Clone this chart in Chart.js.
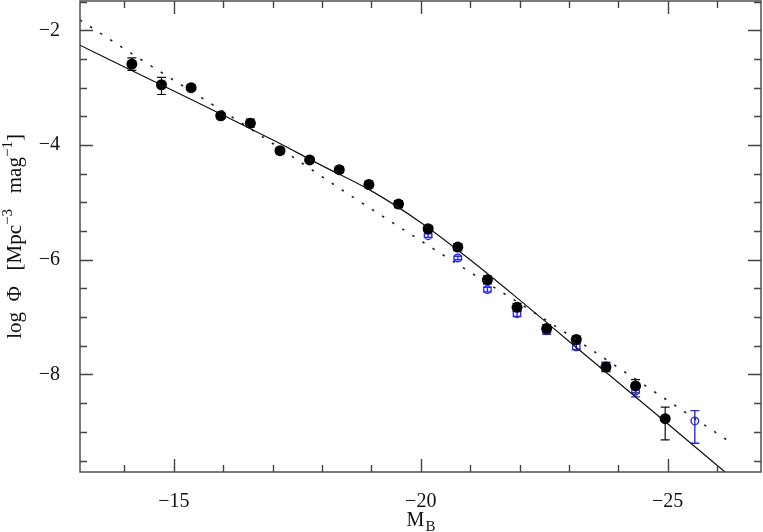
<!DOCTYPE html>
<html>
<head>
<meta charset="utf-8">
<script src="https://cdn.jsdelivr.net/npm/chart.js@4.4.1/dist/chart.umd.min.js"></script>
<style>
  html, body { margin: 0; padding: 0; background: #fff; }
  #lf { display: block; }
</style>
</head>
<body>
<canvas id="lf" width="763" height="532"></canvas>
<script>
// binned luminosity function, filled black points
const magBins = [-14.15, -14.75, -15.35, -15.95, -16.55, -17.15, -17.75, -18.35, -18.95, -19.55,
                 -20.15, -20.75, -21.35, -21.95, -22.55, -23.15, -23.75, -24.35, -24.95];
const logPhi  = [-2.59, -2.95, -3.00, -3.49, -3.62, -4.10, -4.26, -4.43, -4.69, -5.03,
                 -5.46, -5.78, -6.35, -6.83, -7.20, -7.39, -7.87, -8.20, -8.77];
const errUp   = [0.11, 0.13, 0.04, 0.05, 0.07, 0.05, 0.04, 0.05, 0.06, 0.06,
                 0.05, 0.06, 0.07, 0.07, 0.07, 0.06, 0.08, 0.11, 0.20];
const errDown = [0.11, 0.17, 0.04, 0.05, 0.07, 0.05, 0.04, 0.05, 0.06, 0.06,
                 0.05, 0.06, 0.07, 0.07, 0.07, 0.06, 0.08, 0.12, 0.37];

// second sample, open blue circles
const magBlue     = [-20.15, -20.75, -21.35, -21.95, -22.55, -23.15, -23.75, -24.35, -25.55];
const logPhiBlue  = [-5.58, -5.97, -6.52, -6.94, -7.24, -7.52, -7.86, -8.29, -8.81];
const errUpBlue   = [0.03, 0.03, 0.04, 0.05, 0.06, 0.05, 0.07, 0.10, 0.18];
const errDownBlue = [0.03, 0.03, 0.04, 0.05, 0.06, 0.05, 0.07, 0.10, 0.39];

// fitted curves
const fitMag    = [-13.1, -14, -15, -16, -17, -18, -19, -20, -21, -22, -23, -24, -25, -26.3];
const fitLogPhi = [-2.26, -2.64, -3.06, -3.48, -3.91, -4.36, -4.80, -5.35, -6.00, -6.70,
                   -7.42, -8.14, -8.86, -9.80];
const plMag     = [-13.1, -14.08, -16.68, -18.40, -20.75, -22.91, -24.66, -26.25];
const plLogPhi  = [-1.82, -2.37, -3.79, -4.78, -6.08, -7.26, -8.26, -9.17];

const xMajor = [-15, -20, -25];
const yMajor = [-8, -6, -4, -2];

const FONT = '"Liberation Serif", "DejaVu Serif", serif';
const BLUE = 'rgb(40, 40, 245)';

const pts = (xs, ys) => xs.map((x, i) => ({ x: x, y: ys[i] }));
const minus = v => (v < 0 ? '\u2212' + Math.abs(v) : String(v));

const errorBars = {
    id: 'errorBars',
    beforeDatasetsDraw(chart) {
        const { ctx, scales: { x, y } } = chart;
        const draw = (mags, vals, up, dn, color, lw) => {
            ctx.save();
            ctx.strokeStyle = color;
            ctx.lineWidth = lw;
            mags.forEach((m, i) => {
                const px = x.getPixelForValue(m);
                const y1 = y.getPixelForValue(vals[i] + up[i]);
                const y2 = y.getPixelForValue(vals[i] - dn[i]);
                ctx.beginPath();
                ctx.moveTo(px, y1); ctx.lineTo(px, y2);
                ctx.moveTo(px - 4.5, y1); ctx.lineTo(px + 4.5, y1);
                ctx.moveTo(px - 4.5, y2); ctx.lineTo(px + 4.5, y2);
                ctx.stroke();
            });
            ctx.restore();
        };
        draw(magBins, logPhi, errUp, errDown, '#111', 1.2);
        draw(magBlue, logPhiBlue, errUpBlue, errDownBlue, BLUE, 1.4);
    }
};

// box round the plot with inward ticks on all four sides, plus axis titles
const frame = {
    id: 'frame',
    afterDraw(chart) {
        const { ctx, chartArea: a, scales: { x, y } } = chart;
        ctx.save();
        ctx.strokeStyle = '#444';
        ctx.lineWidth = 1.4;
        ctx.strokeRect(a.left, a.top, a.right - a.left, a.bottom - a.top);
        ctx.beginPath();
        for (let v = Math.ceil(x.min); v <= x.max; v += 1) {
            const px = Math.round(x.getPixelForValue(v)) + 0.5;
            const len = v % 5 === 0 ? 13 : 7;
            ctx.moveTo(px, a.bottom); ctx.lineTo(px, a.bottom - len);
            ctx.moveTo(px, a.top); ctx.lineTo(px, a.top + len);
        }
        for (let v = Math.ceil(y.min * 2) / 2; v <= y.max; v += 0.5) {
            const py = Math.round(y.getPixelForValue(v)) + 0.5;
            const len = v % 2 === 0 ? 13 : 7;
            ctx.moveTo(a.left, py); ctx.lineTo(a.left + len, py);
            ctx.moveTo(a.right, py); ctx.lineTo(a.right - len, py);
        }
        ctx.stroke();

        ctx.fillStyle = '#111';
        ctx.textBaseline = 'alphabetic';
        // x title: M with subscript B
        const cx = (a.left + a.right) / 2;
        ctx.font = '20px ' + FONT;
        const wM = ctx.measureText('M').width;
        ctx.font = '15px ' + FONT;
        const wB = ctx.measureText('B').width;
        const tx = cx - (wM + wB) / 2;
        ctx.font = '20px ' + FONT;
        ctx.fillText('M', tx, 526);
        ctx.font = '15px ' + FONT;
        ctx.fillText('B', tx + wM + 1, 531);

        // y title with superscripts
        const parts = [
            { t: 'log  \u03A6   [Mpc', sup: false },
            { t: '\u22123', sup: true },
            { t: '   mag', sup: false },
            { t: '\u22121', sup: true },
            { t: ']', sup: false }
        ];
        const fontOf = p => (p.sup ? '15px ' : '21px ') + FONT;
        let total = 0;
        parts.forEach(p => { ctx.font = fontOf(p); total += ctx.measureText(p.t).width; });
        ctx.translate(21, (a.top + a.bottom) / 2);
        ctx.rotate(-Math.PI / 2);
        let off = -total / 2;
        parts.forEach(p => {
            ctx.font = fontOf(p);
            ctx.fillText(p.t, off, p.sup ? -9 : 0);
            off += ctx.measureText(p.t).width;
        });
        ctx.restore();
    }
};

new Chart(document.getElementById('lf').getContext('2d'), {
    type: 'scatter',
    data: {
        datasets: [
            {
                label: 'fit',
                data: pts(fitMag, fitLogPhi),
                showLine: true,
                borderColor: '#111',
                borderWidth: 1.2,
                pointRadius: 0,
                cubicInterpolationMode: 'monotone'
            },
            {
                label: 'power law',
                data: pts(plMag, plLogPhi),
                showLine: true,
                borderColor: '#222',
                borderWidth: 1.6,
                borderDash: [2.5, 9.5],
                pointRadius: 0,
                cubicInterpolationMode: 'monotone'
            },
            {
                label: 'sample 1',
                data: pts(magBins, logPhi),
                backgroundColor: '#000',
                borderColor: '#000',
                pointRadius: 5.5,
                borderWidth: 0
            },
            {
                label: 'sample 2',
                data: pts(magBlue, logPhiBlue),
                backgroundColor: 'rgba(0,0,0,0)',
                borderColor: BLUE,
                pointRadius: 3.8,
                borderWidth: 1.4
            }
        ]
    },
    options: {
        responsive: false,
        animation: false,
        devicePixelRatio: 1,
        layout: { autoPadding: false, padding: { top: 1, right: 2, left: 0, bottom: 0 } },
        plugins: { legend: { display: false }, tooltip: { enabled: false } },
        scales: {
            x: {
                type: 'linear',
                reverse: true,
                min: -26.89,
                max: -13.1,
                grid: { display: false },
                border: { display: false },
                ticks: {
                    stepSize: 5,
                    includeBounds: false,
                    padding: 10,
                    color: '#111',
                    font: { family: FONT, size: 20 },
                    maxRotation: 0,
                    callback: v => (xMajor.includes(v) ? minus(v) : '')
                },
                afterFit: s => {
                    s.height = 60;
                    s.paddingLeft = 0;
                    s.paddingRight = 0;
                }
            },
            y: {
                min: -9.7,
                max: -1.49,
                grid: { display: false },
                border: { display: false },
                ticks: {
                    stepSize: 2,
                    includeBounds: false,
                    padding: 12,
                    color: '#111',
                    font: { family: FONT, size: 20 },
                    callback: v => (yMajor.includes(v) ? minus(v) : '')
                },
                afterFit: s => {
                    s.width = 80;
                    s.paddingTop = 0;
                    s.paddingBottom = 0;
                }
            }
        }
    },
    plugins: [errorBars, frame]
});
</script>
</body>
</html>
